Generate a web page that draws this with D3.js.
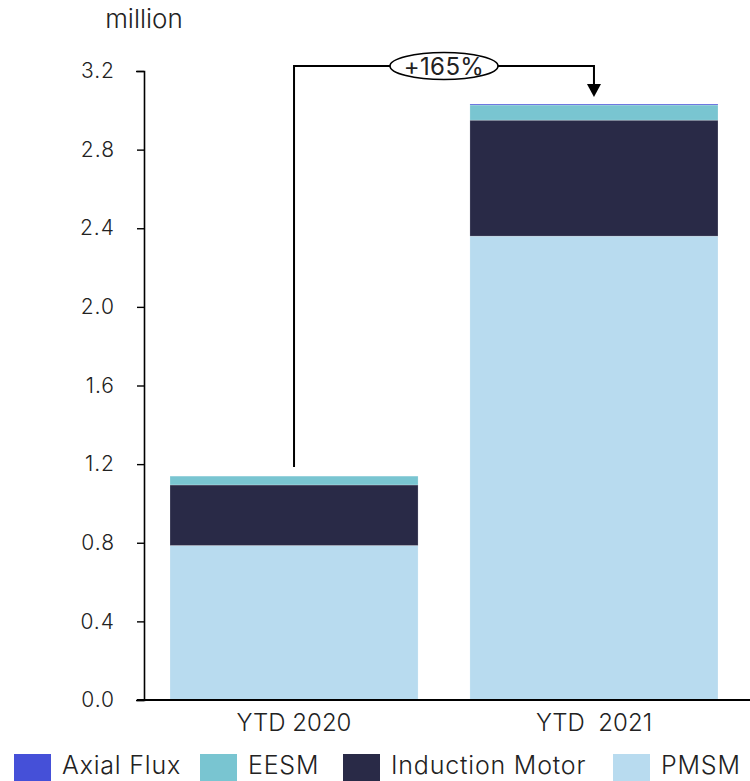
<!DOCTYPE html>
<html><head><meta charset="utf-8">
<script src="https://cdn.jsdelivr.net/npm/d3@7"></script>
<style>body{margin:0;background:#fff}svg{display:block}text{font-family:Inter,Roboto,sans-serif;font-weight:300;fill:#222}</style>
</head><body><svg id="c" width="750" height="781"></svg>
<script>
const categories = ["YTD 2020", "YTD  2021"];
const seriesNames = ["Axial Flux", "EESM", "Induction Motor", "PMSM"];
const pmsm = [0.786, 2.36];
const induction = [0.308, 0.59];
const eesm = [0.045, 0.077];
const axialFlux = [0.0, 0.005];
const yTicks = [0, 0.4, 0.8, 1.2, 1.6, 2.0, 2.4, 2.8, 3.2];
const growthLabel = "+165%";
const colors = {"Axial Flux":"#4550d8","EESM":"#79c5d1","Induction Motor":"#292a47","PMSM":"#b8dbef"};

const data = categories.map((c,i)=>({cat:c, "PMSM":pmsm[i], "Induction Motor":induction[i], "EESM":eesm[i], "Axial Flux":axialFlux[i]}));
const stackOrder = ["PMSM","Induction Motor","EESM","Axial Flux"];
const stacked = d3.stack().keys(stackOrder)(data);

const svg = d3.select("#c");
const y = d3.scaleLinear().domain([0,3.2]).range([700,71]);
const x = d3.scaleBand().domain(categories).range([144,744]).paddingInner(0.173).paddingOuter(0.0867);

// bars
svg.append("g").selectAll("g").data(stacked).join("g")
  .attr("fill", d=>colors[d.key])
  .selectAll("rect").data(d=>d).join("rect")
  .attr("x", d=>x(d.data.cat))
  .attr("width", x.bandwidth())
  .attr("y", d=>y(d[1]))
  .attr("height", d=>Math.max(0, y(d[0])-y(d[1])))
  .attr("stroke","#ffffff").attr("stroke-opacity",0.35).attr("stroke-width",0.6);

// y axis
const ya = svg.append("g").attr("transform","translate(144,0)")
  .call(d3.axisLeft(y).tickValues(yTicks).tickFormat(d3.format(".1f")).tickSizeInner(7).tickSizeOuter(8).tickPadding(22));
ya.select(".domain").attr("stroke","#000").attr("stroke-width",1.6);
ya.selectAll(".tick line").attr("stroke","#000").attr("stroke-width",1.4);
ya.selectAll("text").style("font-size","21px").style("letter-spacing","1px").style("font-family","Inter, sans-serif").style("font-weight","300").attr("fill","#222");

// x axis
const xa = svg.append("g").attr("transform","translate(0,700)")
  .call(d3.axisBottom(x).tickSize(0).tickPadding(14));
xa.select(".domain").remove();
svg.append("line").attr("x1",137).attr("x2",750).attr("y1",700).attr("y2",700).attr("stroke","#000").attr("stroke-width",2);
xa.selectAll("text").style("font-size","24px").style("font-family","Inter, sans-serif").style("font-weight","300").attr("fill","#222").attr("dy","0.71em").style("white-space","pre");

// unit label
svg.append("text").attr("x",144).attr("y",28).attr("text-anchor","middle").style("font-size","26px").text("million");

// annotation
const tot = data.map(d=>stackOrder.reduce((s,k)=>s+d[k],0));
const x0 = x(categories[0])+x.bandwidth()/2, x1 = x(categories[1])+x.bandwidth()/2;
const topY = 66;
svg.append("path").attr("d",`M${x0},${y(tot[0])-9}V${topY}H${x1}V${y(tot[1])-20}`).attr("fill","none").attr("stroke","#000").attr("stroke-width",2);
svg.append("path").attr("d",`M${x1-7},${y(tot[1])-20}L${x1+7},${y(tot[1])-20}L${x1},${y(tot[1])-7}Z`).attr("fill","#000");
const cx = (x0+x1)/2;
svg.append("ellipse").attr("cx",cx).attr("cy",topY).attr("rx",54).attr("ry",13.5).attr("fill","#fff").attr("stroke","#000").attr("stroke-width",1.6);
svg.append("text").attr("x",cx).attr("y",topY+8.5).attr("text-anchor","middle").style("font-size","24px").style("letter-spacing","0.4px").style("font-weight","400").attr("fill","#000").text(growthLabel);

// legend
const legendX = [14,200,343,613];
const lg = svg.append("g");
seriesNames.forEach((s,i)=>{
  lg.append("rect").attr("x",legendX[i]).attr("y",754).attr("width",37).attr("height",27).attr("fill",colors[s]);
  lg.append("text").attr("x",legendX[i]+48).attr("y",774).style("font-size","25px").style("letter-spacing","0.8px").text(s);
});
</script></body></html>
